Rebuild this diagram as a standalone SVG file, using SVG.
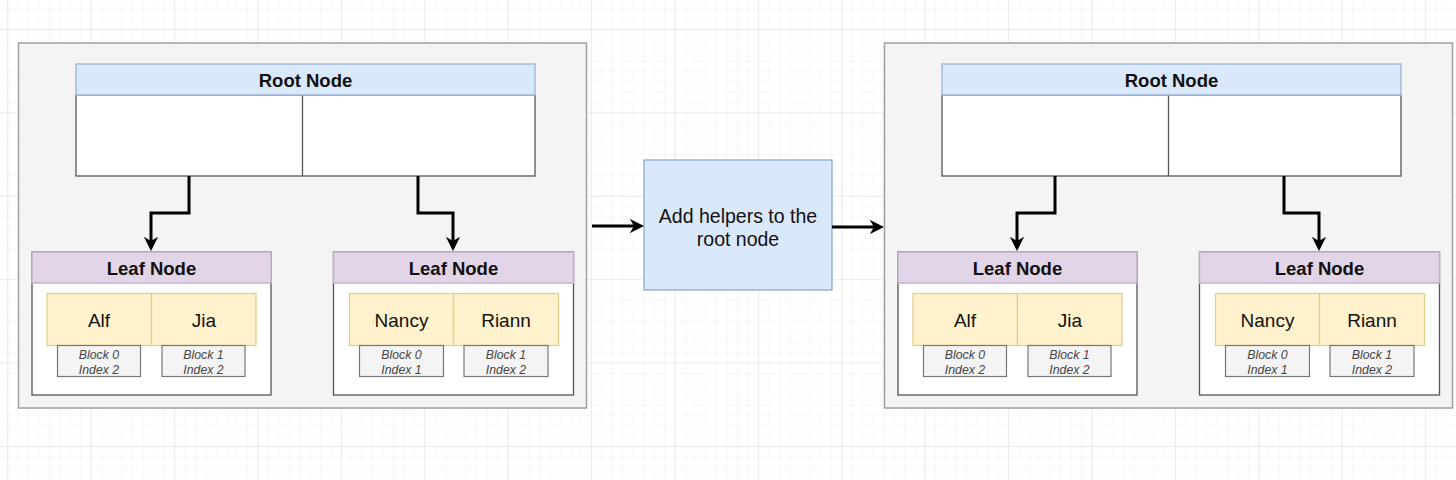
<svg xmlns="http://www.w3.org/2000/svg" width="1456" height="480" viewBox="0 0 1456 480">
<defs>
<pattern id="minor" patternUnits="userSpaceOnUse" x="7.3" y="29" width="10.425" height="10.425">
<path d="M0 0H10.425M0 0V10.425" fill="none" stroke="#efefef" stroke-width="1"/>
</pattern>
<pattern id="major" patternUnits="userSpaceOnUse" x="7.3" y="29" width="83.4" height="83.4">
<path d="M0 0H83.4M0 0V83.4" fill="none" stroke="#dedede" stroke-width="1"/>
</pattern>
<marker id="ah" viewBox="0 0 10 10" refX="3" refY="5" markerWidth="4.8" markerHeight="4.8" orient="auto" markerUnits="strokeWidth">
<path d="M0 0L10 5L0 10L3 5Z" fill="#000"/>
</marker>
</defs>
<style>
.t{font-family:"Liberation Sans",Arial,sans-serif;fill:#111;text-anchor:middle}
.hb{font-weight:bold;font-size:18.5px}
.nm{font-size:19px}
.bl{font-size:12.3px;font-style:italic;fill:#444}
.mid{font-size:19.5px}
.cont{fill:#f4f4f4;stroke:#a0a0a0;stroke-width:1.5}
.rh{fill:#dae8fc;stroke:#a6bbdc;stroke-width:1.5}
.rb{fill:#fff;stroke:#555;stroke-width:1.3}
.lh{fill:#e1d5e7;stroke:#c2b0cc;stroke-width:1.5}
.cell{fill:#fff2cc;stroke:#e2cf8c;stroke-width:1.3}
.blk{fill:#f4f4f4;stroke:#777;stroke-width:1.2}
.edge{fill:none;stroke:#000;stroke-width:3}
</style>
<rect width="1456" height="480" fill="#fff"/>
<rect width="1456" height="480" fill="url(#minor)"/>
<rect width="1456" height="480" fill="url(#major)"/>

<g id="container-left"><rect class="cont" x="18.5" y="43" width="568" height="365"/></g>
<g id="container-right"><rect class="cont" x="884.5" y="43" width="568" height="365"/></g>

<g id="root-left">
<rect class="rb" x="76" y="95" width="459" height="81"/>
<line x1="302.5" y1="95" x2="302.5" y2="176" stroke="#555" stroke-width="1.3"/>
<rect class="rh" x="76" y="64" width="459" height="31"/>
<text class="t hb" x="305.5" y="87">Root Node</text>
</g>

<g id="leaf-left-1">
<rect class="rb" x="32" y="252" width="239" height="143"/>
<rect class="lh" x="32" y="252" width="239" height="31"/>
<text class="t hb" x="151.5" y="274.5">Leaf Node</text>
<rect class="cell" x="47" y="293.5" width="104.5" height="52"/>
<rect class="cell" x="151.5" y="293.5" width="104.5" height="52"/>
<text class="t nm" x="99" y="327">Alf</text>
<text class="t nm" x="204" y="327">Jia</text>
<rect class="blk" x="57.5" y="345.5" width="83" height="31"/>
<rect class="blk" x="162" y="345.5" width="83" height="31"/>
<text class="t bl" x="99" y="359">Block 0</text>
<text class="t bl" x="99" y="373.5">Index 2</text>
<text class="t bl" x="203.5" y="359">Block 1</text>
<text class="t bl" x="203.5" y="373.5">Index 2</text>
</g>

<g id="leaf-left-2">
<rect class="rb" x="333.5" y="252" width="240" height="143"/>
<rect class="lh" x="333.5" y="252" width="240" height="31"/>
<text class="t hb" x="453.5" y="274.5">Leaf Node</text>
<rect class="cell" x="349.5" y="293.5" width="104" height="52"/>
<rect class="cell" x="453.5" y="293.5" width="105" height="52"/>
<text class="t nm" x="401.5" y="327">Nancy</text>
<text class="t nm" x="506" y="327">Riann</text>
<rect class="blk" x="359.5" y="345.5" width="84" height="31"/>
<rect class="blk" x="464" y="345.5" width="84" height="31"/>
<text class="t bl" x="401.5" y="359">Block 0</text>
<text class="t bl" x="401.5" y="373.5">Index 1</text>
<text class="t bl" x="506" y="359">Block 1</text>
<text class="t bl" x="506" y="373.5">Index 2</text>
</g>

<g id="helper">
<rect x="644" y="160" width="188" height="130" fill="#dae8fc" stroke="#8fa9d3" stroke-width="1.3"/>
<text class="t mid" x="738" y="223">Add helpers to the</text>
<text class="t mid" x="738" y="246">root node</text>
</g>

<g id="root-right">
<rect class="rb" x="942" y="95" width="459" height="81"/>
<line x1="1168.5" y1="95" x2="1168.5" y2="176" stroke="#555" stroke-width="1.3"/>
<rect class="rh" x="942" y="64" width="459" height="31"/>
<text class="t hb" x="1171.5" y="87">Root Node</text>
</g>

<g id="leaf-right-1">
<rect class="rb" x="898" y="252" width="239" height="143"/>
<rect class="lh" x="898" y="252" width="239" height="31"/>
<text class="t hb" x="1017.5" y="274.5">Leaf Node</text>
<rect class="cell" x="913" y="293.5" width="104.5" height="52"/>
<rect class="cell" x="1017.5" y="293.5" width="104.5" height="52"/>
<text class="t nm" x="965" y="327">Alf</text>
<text class="t nm" x="1070" y="327">Jia</text>
<rect class="blk" x="923.5" y="345.5" width="83" height="31"/>
<rect class="blk" x="1028" y="345.5" width="83" height="31"/>
<text class="t bl" x="965" y="359">Block 0</text>
<text class="t bl" x="965" y="373.5">Index 2</text>
<text class="t bl" x="1069.5" y="359">Block 1</text>
<text class="t bl" x="1069.5" y="373.5">Index 2</text>
</g>

<g id="leaf-right-2">
<rect class="rb" x="1199.5" y="252" width="240" height="143"/>
<rect class="lh" x="1199.5" y="252" width="240" height="31"/>
<text class="t hb" x="1319.5" y="274.5">Leaf Node</text>
<rect class="cell" x="1215.5" y="293.5" width="104" height="52"/>
<rect class="cell" x="1319.5" y="293.5" width="105" height="52"/>
<text class="t nm" x="1267.5" y="327">Nancy</text>
<text class="t nm" x="1372" y="327">Riann</text>
<rect class="blk" x="1225.5" y="345.5" width="84" height="31"/>
<rect class="blk" x="1330" y="345.5" width="84" height="31"/>
<text class="t bl" x="1267.5" y="359">Block 0</text>
<text class="t bl" x="1267.5" y="373.5">Index 1</text>
<text class="t bl" x="1372" y="359">Block 1</text>
<text class="t bl" x="1372" y="373.5">Index 2</text>
</g>

<g id="connectors">
<path class="edge" d="M189 176V213H151V241" marker-end="url(#ah)"/>
<path class="edge" d="M418 176V213H453V241" marker-end="url(#ah)"/>
<path class="edge" d="M1055 176V213H1017V241" marker-end="url(#ah)"/>
<path class="edge" d="M1284 176V213H1319V241" marker-end="url(#ah)"/>
<path class="edge" d="M592 226H634" marker-end="url(#ah)"/>
<path class="edge" d="M832 227H874" marker-end="url(#ah)"/>
</g>
</svg>
